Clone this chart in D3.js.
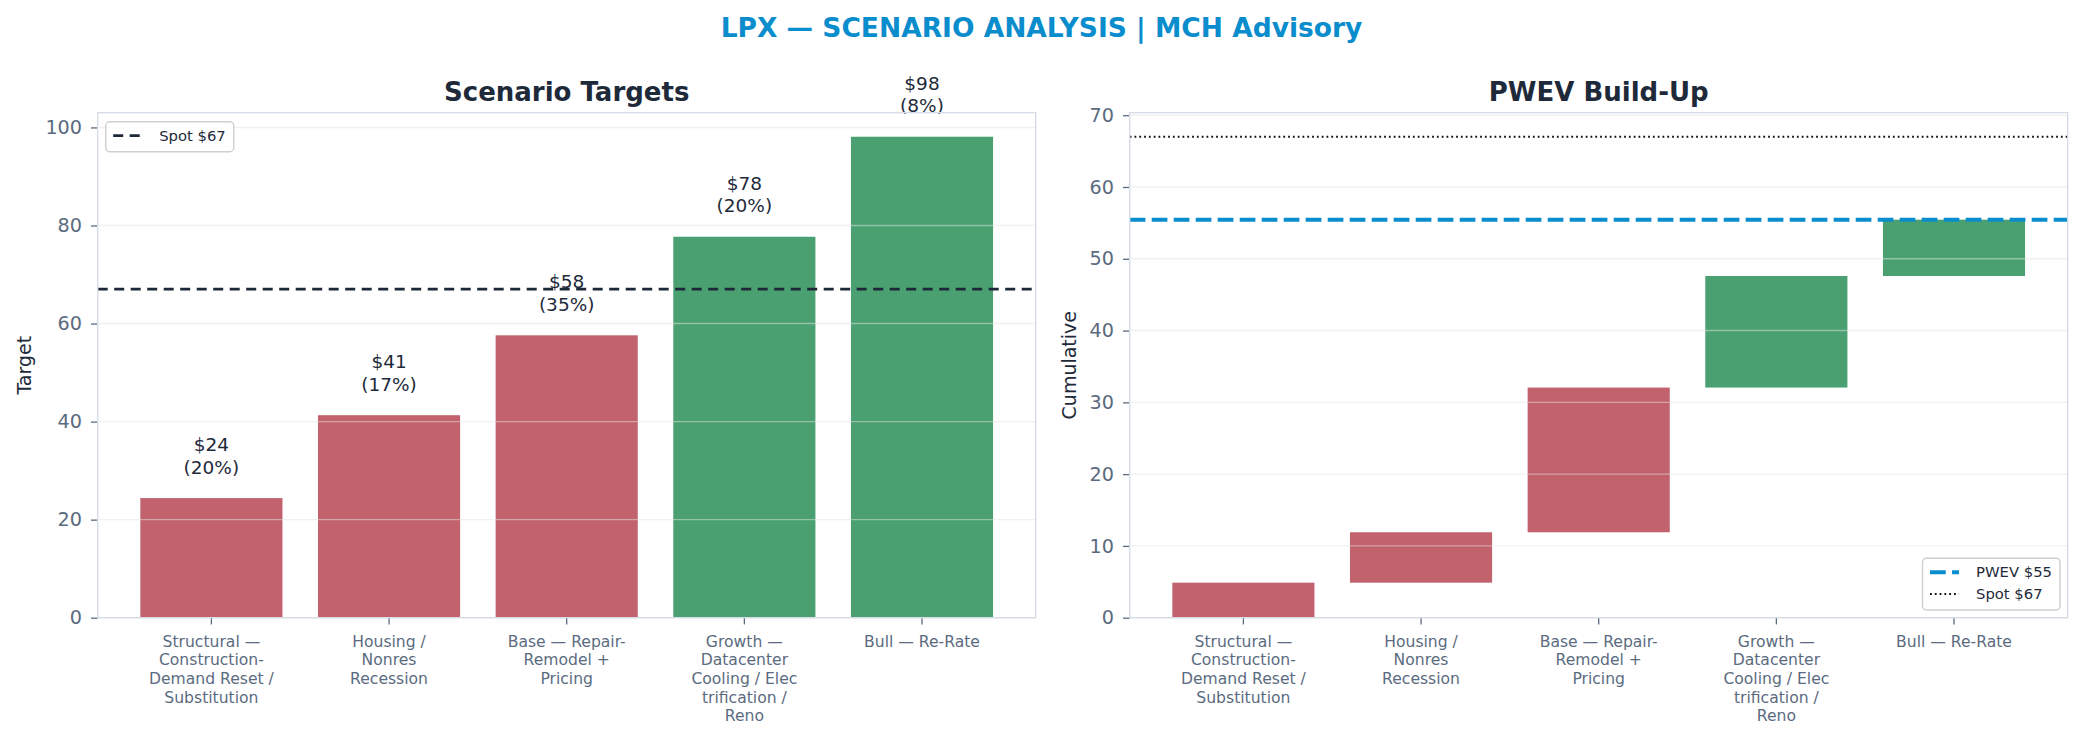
<!DOCTYPE html>
<html>
<head>
<meta charset="utf-8">
<script src="https://cdn.jsdelivr.net/npm/d3@7"></script>
<style>
  html, body { margin: 0; padding: 0; background: #ffffff; }
  svg { display: block; font-family: "DejaVu Sans", sans-serif; }
</style>
</head>
<body>
<script>
// ---------------- DATA ----------------
const categories = [
  "Structural —\nConstruction-\nDemand Reset /\nSubstitution",
  "Housing /\nNonres\nRecession",
  "Base — Repair-\nRemodel +\nPricing",
  "Growth —\nDatacenter\nCooling / Elec\ntrification /\nReno",
  "Bull — Re-Rate"
];
const targets = [24.4, 41.3, 57.6, 77.7, 98.1];
const probabilities = [0.20, 0.17, 0.35, 0.20, 0.08];
const spotPrice = 67;
const leftTicks = [0, 20, 40, 60, 80, 100];
const rightTicks = [0, 10, 20, 30, 40, 50, 60, 70];
const mainTitle = "LPX — SCENARIO ANALYSIS | MCH Advisory";
const leftTitle = "Scenario Targets";
const rightTitle = "PWEV Build-Up";

// ---------------- STYLE ----------------
const W = 2083, H = 742;
const C = {
  red: "#c1626c", green: "#4aa070", blue: "#0a8dcd", navy: "#1c2838",
  text: "#1e2a3a", tick: "#5b6b7f", spine: "#d6dde7", grid: "#e4e4e4"
};
const yTop = 112.7, yBottom = 617.7;
const panels = [{ x0: 97.7, x1: 1035.7 }, { x0: 1129.7, x1: 2067.7 }];

const svg = d3.select("body").append("svg").attr("width", W).attr("height", H);

svg.append("text").attr("x", W / 2).attr("y", 36.5).attr("text-anchor", "middle")
  .attr("font-size", 26.5).attr("font-weight", "bold").attr("fill", C.blue).text(mainTitle);

// derived waterfall
const contrib = targets.map((t, i) => t * probabilities[i]);
const cumEnd = Array.from(d3.cumsum(contrib));
const cumStart = cumEnd.map((c, i) => c - contrib[i]);
const pwev = d3.sum(contrib);
const colorOf = i => targets[i] < spotPrice ? C.red : C.green;
const fmt$ = v => "$" + d3.format(".0f")(v);

function makeAxes(p, yMax, ticks, title, ylabel, ylabelX) {
  const g = svg.append("g");
  const x = d3.scaleBand().domain(d3.range(categories.length)).range([p.x0, p.x1])
    .paddingInner(0.2).paddingOuter(0.24);
  const y = d3.scaleLinear().domain([0, yMax]).range([yBottom, yTop]);
  const marks = g.append("g");
  const over = g.append("g");
  // y axis
  const ya = g.append("g").attr("transform", `translate(${p.x0},0)`)
    .call(d3.axisLeft(y).tickValues(ticks).tickSize(6.7).tickPadding(9));
  ya.select(".domain").remove();
  ya.selectAll(".tick line").attr("stroke", C.tick).attr("stroke-width", 1.3);
  ya.selectAll(".tick text").attr("fill", C.tick).attr("font-size", 19.2)
    .attr("font-family", "DejaVu Sans");
  // x axis
  const xa = g.append("g").attr("transform", `translate(0,${yBottom})`)
    .call(d3.axisBottom(x).tickSize(6.7).tickFormat(""));
  xa.select(".domain").remove();
  xa.selectAll(".tick line").attr("stroke", C.tick).attr("stroke-width", 1.3);
  xa.selectAll(".tick").each(function (d) {
    const t = d3.select(this).append("text").attr("text-anchor", "middle")
      .attr("fill", C.tick).attr("font-size", 15.6).attr("font-family", "DejaVu Sans");
    categories[d].split("\n").forEach((line, k) => {
      t.append("tspan").attr("x", 0).attr("y", 29 + k * 18.7).text(line);
    });
  });
  // gridlines (drawn above bars)
  over.selectAll("line.grid").data(ticks).join("line").attr("class", "grid")
    .attr("x1", p.x0).attr("x2", p.x1).attr("y1", d => y(d)).attr("y2", d => y(d))
    .attr("stroke", C.grid).attr("stroke-opacity", 0.5).attr("stroke-width", 1.4);
  // frame
  g.append("rect").attr("x", p.x0).attr("y", yTop).attr("width", p.x1 - p.x0)
    .attr("height", yBottom - yTop).attr("fill", "none").attr("stroke", C.spine).attr("stroke-width", 1.4);
  // title
  g.append("text").attr("x", (p.x0 + p.x1) / 2).attr("y", 100.5).attr("text-anchor", "middle")
    .attr("font-size", 26).attr("font-weight", "bold").attr("fill", C.text).text(title);
  // y label
  g.append("text").attr("transform", `translate(${ylabelX},${(yTop + yBottom) / 2}) rotate(-90)`)
    .attr("text-anchor", "middle").attr("dy", "0.35em").attr("font-size", 19)
    .attr("fill", C.text).text(ylabel);
  return { g, x, y, marks, over };
}

function legend(items, anchor, p) {
  const lg = svg.append("g");
  const rowH = 21.7, padTop = 14, padBot = 16;
  const box = lg.append("rect").attr("rx", 4).attr("fill", "#ffffff").attr("fill-opacity", 0.85)
    .attr("stroke", "#cfcfcf").attr("stroke-width", 1.4);
  let maxW = 0;
  items.forEach((it, i) => {
    const yy = padTop + i * rowH;
    lg.append("line").attr("x1", 7.5).attr("x2", 36.5).attr("y1", yy).attr("y2", yy)
      .attr("stroke", it.color).attr("stroke-width", it.width).attr("stroke-dasharray", it.dash);
    const t = lg.append("text").attr("x", 53.5).attr("y", yy).attr("dy", "0.35em")
      .attr("font-size", 14.8).attr("fill", C.text).text(it.label);
    maxW = Math.max(maxW, t.node().getComputedTextLength());
  });
  const bw = 53.5 + maxW + 8, bh = padTop + (items.length - 1) * rowH + padBot;
  box.attr("width", bw).attr("height", bh);
  let tx, ty;
  if (anchor === "upper left") { tx = p.x0 + 8; ty = yTop + 9; }
  else { tx = p.x1 - 7.7 - bw; ty = yBottom - 7.7 - bh; }
  lg.attr("transform", `translate(${tx},${ty})`);
}

// ---------------- LEFT PANEL ----------------
const L = makeAxes(panels[0], d3.max(targets) * 1.05, leftTicks, leftTitle, "Target", 24);
L.marks.selectAll("rect").data(targets).join("rect")
  .attr("x", (d, i) => L.x(i)).attr("width", L.x.bandwidth())
  .attr("y", d => L.y(d)).attr("height", d => L.y(0) - L.y(d))
  .attr("fill", (d, i) => colorOf(i));
L.over.append("line").attr("x1", panels[0].x0).attr("x2", panels[0].x1)
  .attr("y1", L.y(spotPrice)).attr("y2", L.y(spotPrice))
  .attr("stroke", C.navy).attr("stroke-width", 2.7).attr("stroke-dasharray", "10,6.5");
targets.forEach((t, i) => {
  const cx = L.x(i) + L.x.bandwidth() / 2;
  const txt = L.over.append("text").attr("text-anchor", "middle").attr("font-size", 18.5).attr("fill", C.text);
  txt.append("tspan").attr("x", cx).attr("y", L.y(t) - 47).text(fmt$(t));
  txt.append("tspan").attr("x", cx).attr("y", L.y(t) - 24.3).text("(" + d3.format(".0%")(probabilities[i]) + ")");
});
legend([{ label: "Spot " + fmt$(spotPrice), color: C.navy, width: 2.7, dash: "10,6.5" }], "upper left", panels[0]);

// ---------------- RIGHT PANEL ----------------
const R = makeAxes(panels[1], spotPrice * 1.05, rightTicks, rightTitle, "Cumulative", 1069);
R.marks.selectAll("rect").data(contrib).join("rect")
  .attr("x", (d, i) => R.x(i)).attr("width", R.x.bandwidth())
  .attr("y", (d, i) => R.y(cumEnd[i])).attr("height", (d, i) => R.y(cumStart[i]) - R.y(cumEnd[i]))
  .attr("fill", (d, i) => colorOf(i));
R.over.append("line").attr("x1", panels[1].x0).attr("x2", panels[1].x1)
  .attr("y1", R.y(pwev)).attr("y2", R.y(pwev))
  .attr("stroke", C.blue).attr("stroke-width", 4).attr("stroke-dasharray", "15.7,6.3");
R.over.append("line").attr("x1", panels[1].x0).attr("x2", panels[1].x1)
  .attr("y1", R.y(spotPrice)).attr("y2", R.y(spotPrice))
  .attr("stroke", "#111111").attr("stroke-width", 1.8).attr("stroke-dasharray", "1.8,3");
legend([
  { label: "PWEV " + fmt$(pwev), color: C.blue, width: 4, dash: "15.7,6.3" },
  { label: "Spot " + fmt$(spotPrice), color: "#111111", width: 1.8, dash: "1.8,3" }
], "lower right", panels[1]);
</script>
</body>
</html>
